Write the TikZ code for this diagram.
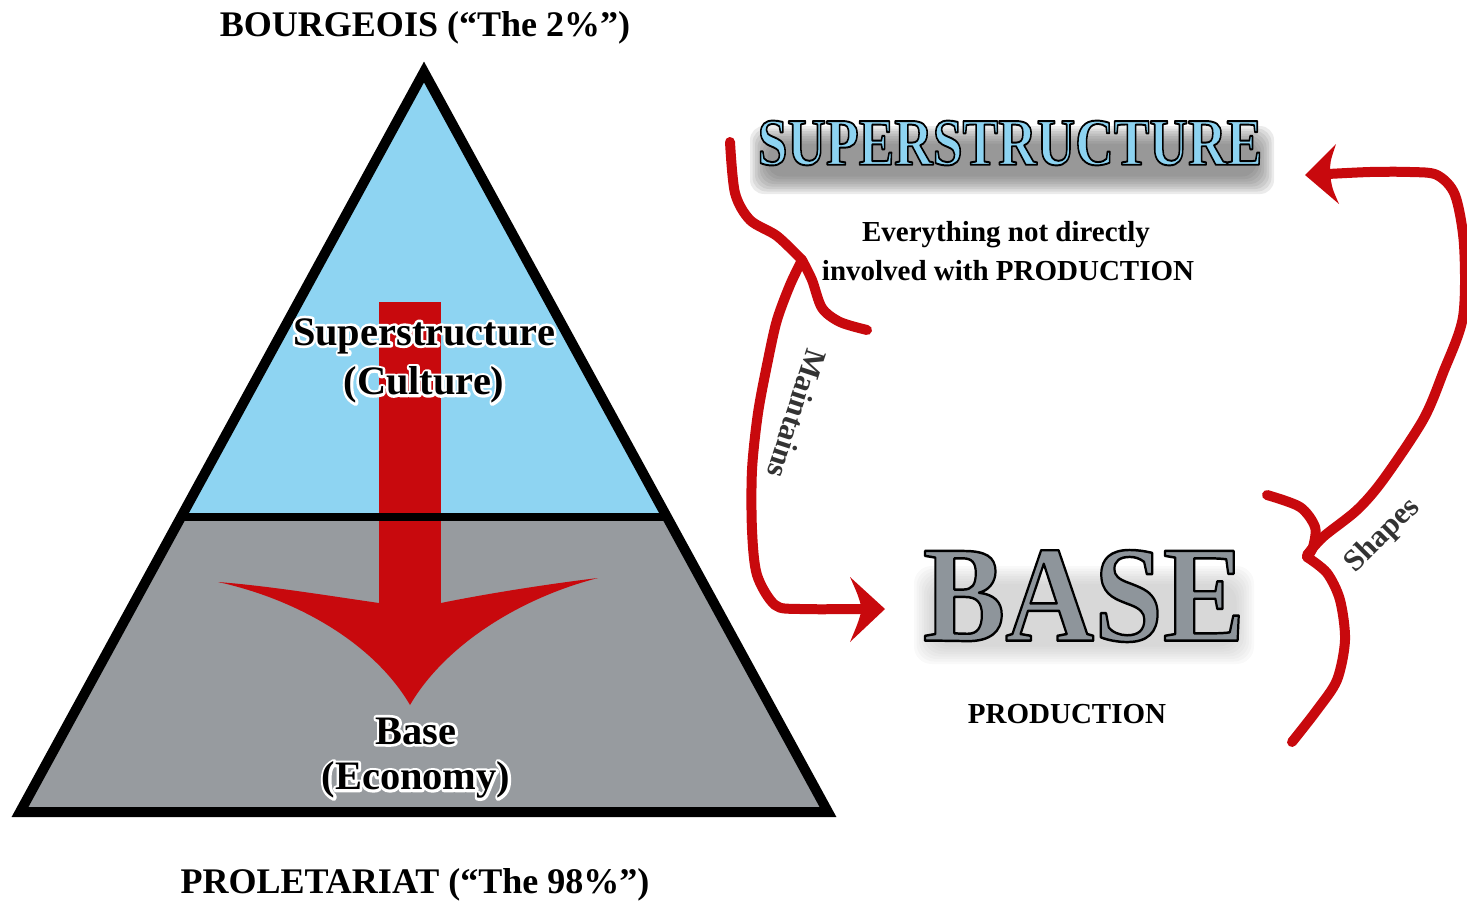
\documentclass[tikz,border=0pt]{standalone}
\usepackage{fontspec}
\setmainfont{Liberation Serif}
\usepackage{graphicx}
\usepackage{tikz}
\newcommand{\strokedtext}[3]{\special{pdf:literal direct #1 RG #2 w 1 j}\special{pdf:literal direct 2 Tr}#3\special{pdf:literal direct 0 Tr}}
\begin{document}
\begin{tikzpicture}[x=0.02cm,y=-0.02cm,
  redline/.style={draw=pen,line width=0.2cm,line cap=round,line join=round},
  headline/.style={font=\fontsize{20.5}{24}\selectfont\bfseries},
  cultlabel/.style={font=\fontsize{23}{28}\selectfont\bfseries},
  captext/.style={font=\fontsize{16.5}{20}\selectfont\bfseries},
  sidetext/.style={font=\fontsize{17.5}{20}\selectfont\bfseries,text=inkgray},
  superword/.style={font=\fontsize{38}{40}\selectfont\bfseries},
  baseword/.style={font=\fontsize{78}{80}\selectfont\bfseries}]
\definecolor{upper}{HTML}{8ED4F2}
\definecolor{lower}{HTML}{979B9F}
\definecolor{pen}{HTML}{C8090D}
\definecolor{superblue}{HTML}{8DD3F1}
\definecolor{basegray}{HTML}{8E959B}
\definecolor{inkgray}{HTML}{333333}
\useasboundingbox (0,0) rectangle (1467,903);
\fill[upper] (424,72) -- (181,517) -- (667,517) -- cycle;
\fill[lower] (181,517) -- (20,812) -- (828,812) -- (667,517) -- cycle;
\fill[pen] (379,302) rectangle (441,610);
\fill[pen] (379,603) .. controls (330,596) and (270,586) .. (218,582)
  .. controls (300,600) and (375,645) .. (410,705)
  .. controls (445,645) and (520,598) .. (598,578)
  .. controls (540,585) and (480,595) .. (441,603) -- cycle;
\draw[line width=0.16cm] (181,517) -- (667,517);
\draw[line width=0.2cm,line join=miter] (424,72) -- (20,812) -- (828,812) -- cycle;
\node[cultlabel,text=white] (suphalo) at (424,336) {\strokedtext{1 1 1}{3}{Superstructure}};
\node[cultlabel] (supline) at (424,336) {Superstructure};
\node[cultlabel,text=white] (culthalo) at (424,385) {\strokedtext{1 1 1}{3}{(Culture)}};
\node[cultlabel] (culture) at (424,385) {(Culture)};
\node[cultlabel,text=white] (basehalo) at (416,731) {\strokedtext{1 1 1}{3}{Base}};
\node[cultlabel] (baseline) at (416,731) {Base};
\node[cultlabel,text=white] (econhalo) at (416,780) {\strokedtext{1 1 1}{3}{(Economy)}};
\node[cultlabel] (economy) at (416,780) {(Economy)};
\node[headline] (bourg) at (425,28) {BOURGEOIS (“The 2\%”)};
\node[headline] (prole) at (415,885) {PROLETARIAT (“The 98\%”)};
\foreach \k in {0,...,7}
  \fill[black!60,opacity=0.13,rounded corners=8] (750+2.5*\k,126+2.5*\k) rectangle (1274-2.5*\k,194-2.5*\k);
\node[superword,text=superblue] (superw) at (1010,143) {\scalebox{0.8}[1]{\strokedtext{0 0 0}{1.1}{SUPERSTRUCTURE}}};
\node[captext] (def1) at (1006,235) {Everything not directly};
\node[captext] (def2) at (1008,271) {involved with PRODUCTION};
\foreach \k in {0,...,7}
  \fill[black!40,opacity=0.06,rounded corners=10] (914+2.5*\k,566+2.5*\k) rectangle (1254-2.5*\k,664-2.5*\k);
\node[baseword,text=basegray] (basew) at (1084,596) {\scalebox{0.9}[1]{\strokedtext{0 0 0}{1.4}{BASE}}};
\node[captext] (prod) at (1067,714) {PRODUCTION};
\draw[redline] plot[smooth] coordinates {(730,142) (735,193) (750,220) (777,236) (802,260)};
\draw[redline] plot[smooth] coordinates {(802,260) (812,280) (822,308) (840,322) (867,330)};
\draw[redline] plot[smooth] coordinates {(802,260) (790,285) (777,320) (768,360) (758,413) (752,470) (752,530) (757,575) (775,605) (800,609) (862,609)};
\fill[pen] (885,609) -- (850,577) .. controls (858,595) .. (862,609) .. controls (858,623) .. (850,642) -- cycle;
\node[sidetext,rotate=-108] (maint) at (797,414) {Maintains};
\fill[pen] (1305,175) -- (1336,144) .. controls (1330,162) .. (1330,174) .. controls (1332,188) .. (1339,204) -- cycle;
\draw[redline] plot[smooth] coordinates {(1328,174) (1370,172) (1410,172) (1437,175) (1455,195) (1464,245) (1463,317) (1443,373) (1423,420) (1383,480) (1357,510) (1323,537) (1307,555)};
\draw[redline] plot[smooth] coordinates {(1267,495) (1300,507) (1315,527) (1313,547) (1307,557)};
\draw[redline] plot[smooth] coordinates {(1307,557) (1327,573) (1340,600) (1345,640) (1337,680) (1317,710) (1292,742)};
\node[sidetext,rotate=45] (shapes) at (1383,536) {Shapes};
\end{tikzpicture}
\end{document}
